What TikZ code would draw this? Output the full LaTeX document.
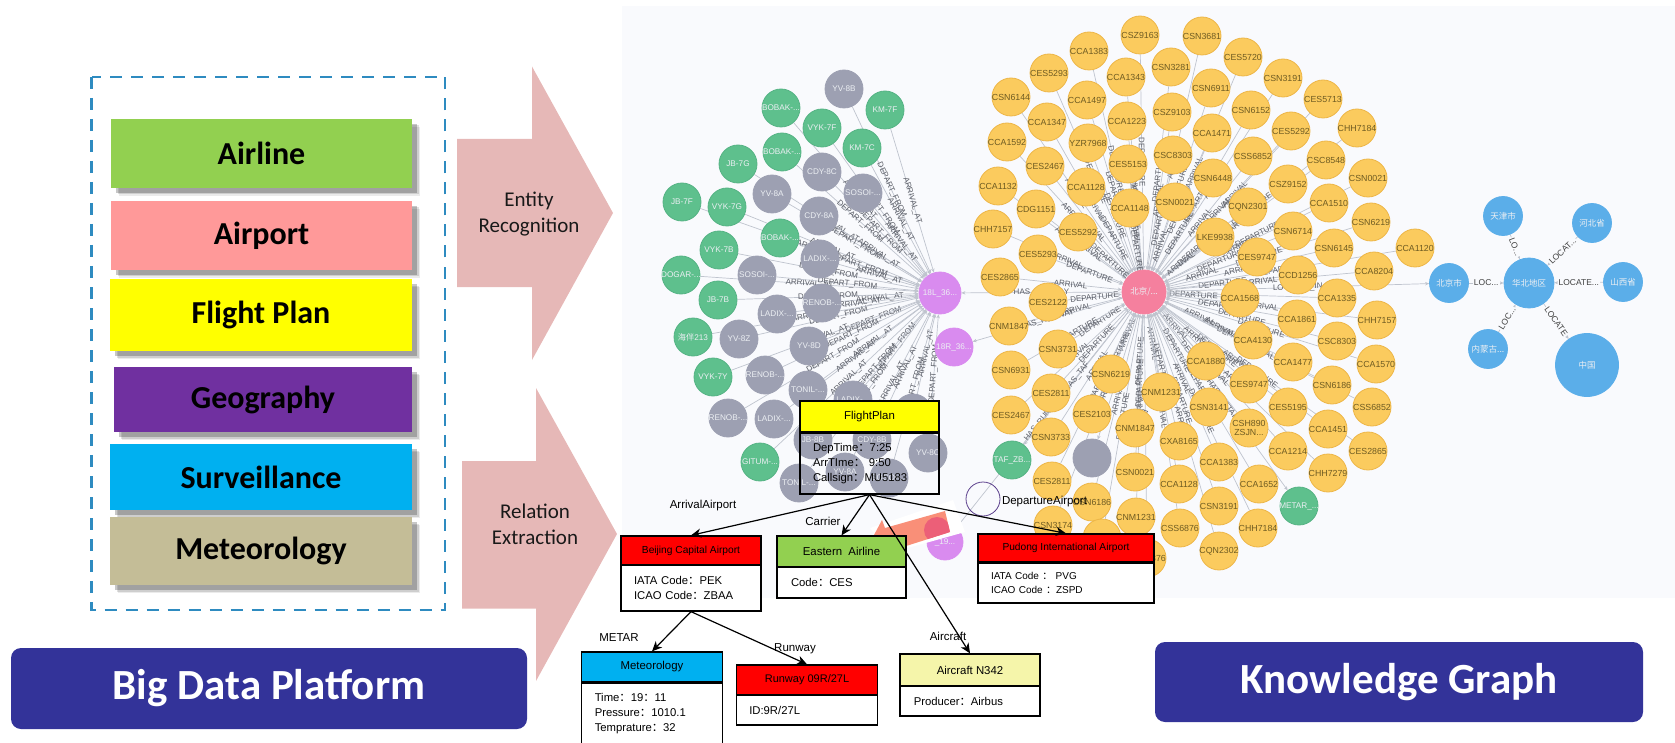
\documentclass[tikz,border=0pt]{standalone}
\usepackage{fontspec}
\usetikzlibrary{arrows.meta,shadows,calc}
\setmainfont{Liberation Sans}
\newfontfamily\calfont{Carlito}
\newfontfamily\cjk{Noto Sans CJK SC}
\definecolor{panelc}{HTML}{F9FAFD}
\definecolor{ynode}{HTML}{FBCB5E}
\definecolor{ynodeb}{HTML}{EDB648}
\definecolor{gnode}{HTML}{5EC08D}
\definecolor{gnodeb}{HTML}{55B384}
\definecolor{hnode}{HTML}{9DA0B2}
\definecolor{pnode}{HTML}{D98BEF}
\definecolor{rnode}{HTML}{F5809E}
\definecolor{bnode}{HTML}{5BAEE9}
\definecolor{edgec}{HTML}{BFC4CE}
\definecolor{elabc}{HTML}{5A5D66}
\definecolor{ytext}{HTML}{6E5B22}
\definecolor{wtext}{HTML}{ECEFF3}
\definecolor{navy}{HTML}{333399}
\definecolor{arrowc}{HTML}{E6B8B7}
\definecolor{dashc}{HTML}{2E8BC0}
\definecolor{salmon}{HTML}{F98F78}
\definecolor{redact}{HTML}{EC5F78}
\definecolor{pureyellow}{HTML}{FFFF00}
\definecolor{purered}{HTML}{FF0000}
\definecolor{catgreen}{HTML}{92D050}
\definecolor{catpink}{HTML}{FF9999}
\definecolor{catpurple}{HTML}{7030A0}
\definecolor{catblue}{HTML}{00B0F0}
\definecolor{cattan}{HTML}{C4BD97}
\definecolor{acyellow}{HTML}{F5F5AA}
\definecolor{ringc}{HTML}{5B3F8C}
\newcommand\nl[1]{\makebox[0pt][c]{#1}}
\newcommand\dd{.\kern0pt.\kern0pt.}
\newcommand\low[1]{\raisebox{-2.5pt}{#1}}
\pgfdeclarelayer{background}
\pgfsetlayers{background,main}
\tikzset{
  graphnode/.style={circle,inner sep=0pt,minimum size=38pt,line width=0.8pt},
  yn/.style={graphnode,fill=ynode,draw=ynodeb,text=ytext,font=\fontsize{8.8}{9}\selectfont},
  gn/.style={graphnode,fill=gnode,draw=gnodeb,text=wtext,font=\fontsize{8.2}{9}\selectfont},
  hn/.style={graphnode,fill=hnode,draw=hnode,text=wtext,font=\fontsize{8.2}{9}\selectfont},
  pn/.style={graphnode,fill=pnode,draw=pnode,text=wtext,font=\fontsize{8.2}{9}\selectfont},
  bn/.style={graphnode,fill=bnode,draw=bnode,text=wtext,font=\fontsize{8.5}{9}\selectfont},
  gedge/.style={draw=edgec,line width=0.7pt,-{Stealth[length=4pt,width=3.5pt]}},
  elabel/.style={midway,sloped,inner sep=0pt,text=elabc,font=\fontsize{8}{9}\selectfont},
  blabel/.style={midway,sloped,inner sep=1pt,fill=panelc,text=black!75,font=\fontsize{8.5}{9}\selectfont},
  hdr/.style={rectangle,draw=black,line width=1.3pt,inner sep=0pt,font=\fontsize{11.4}{13}\selectfont},
  tbody/.style={rectangle,draw=black,line width=1.3pt,inner sep=0pt,align=left,font=\fontsize{11.3}{15}\selectfont},
  rel/.style={draw=black,line width=1.2pt,-{Stealth[length=10pt,width=9pt,inset=3pt]}},
  rellab/.style={inner sep=0pt,font=\fontsize{11.5}{13}\selectfont},
  cat/.style={rectangle,inner sep=0pt,font=\calfont\bfseries\fontsize{32}{34}\selectfont,text=black,
    general shadow={fill=black,opacity=.08,shadow xshift=8pt,shadow yshift=-8pt},
    general shadow={fill=black,opacity=.12,shadow xshift=6.5pt,shadow yshift=-6.5pt},
    general shadow={fill=black,opacity=.22,shadow xshift=5pt,shadow yshift=-5pt}},
  bigarrow/.style={fill=arrowc,draw=none},
  bigtext/.style={align=center,inner sep=0pt,font=\calfont\fontsize{21}{26}\selectfont,text=black!90},
  banner/.style={rectangle,rounded corners=10pt,fill=navy,inner sep=0pt,text=white,font=\calfont\bfseries\fontsize{43}{46}\selectfont},
}
\begin{document}
\begin{tikzpicture}[x=1pt,y=-1pt]
\useasboundingbox (0,0) rectangle (1675,743);
\begin{pgfonlayer}{background}
  \fill[panelc] (622,6) rectangle (1675,598);
\end{pgfonlayer}

% category boxes
\draw[dashc,line width=2.5pt,dash pattern=on 12pt off 9pt] (91.5,77) rectangle (445,610);
\node[cat,fill=catgreen,minimum width=301pt,minimum height=69pt] (airline) at (261.5,153.5) {\raisebox{-1pt}{Airline}};
\node[cat,fill=catpink,minimum width=301pt,minimum height=69pt] (airport) at (261.5,235.5) {\low{Airport}};
\node[cat,fill=pureyellow,minimum width=302pt,minimum height=72pt] (plan) at (261,315) {\low{Flight Plan}};
\node[cat,fill=catpurple,minimum width=298pt,minimum height=65pt] (geo) at (263,399.5) {\low{Geography}};
\node[cat,fill=catblue,minimum width=302pt,minimum height=66pt] (surv) at (261,477) {\raisebox{-1pt}{Surveillance}};
\node[cat,fill=cattan,minimum width=302pt,minimum height=68pt] (met) at (261,551) {\low{Meteorology}};

% big arrows
\fill[bigarrow] (457,139) -- (532,139) -- (532,66.5) -- (613,213) -- (532,360) -- (532,287) -- (457,287) -- cycle;
\fill[bigarrow] (462,461) -- (536,461) -- (536,388) -- (617,534) -- (536,681) -- (536,608.5) -- (462,608.5) -- cycle;
\node[bigtext] (ertext) at (529,214) {Entity\\Recognition};
\node[bigtext] (retext) at (535,524) {Relation\\Extraction};

% banners
\node[banner,minimum width=516pt,minimum height=81pt] (bdp) at (269,688.5) {Big Data Plat{}form};
\node[banner,minimum width=488pt,minimum height=80pt] (kg) at (1399,682) {Knowledge Graph};

% hubs
\node[graphnode,minimum size=44pt,fill=rnode,draw=rnode,text=wtext,font=\fontsize{8.5}{9}\selectfont] (hub) at (1144,292) {\nl{\cjk 北京/\dd}};
\node[pn,minimum size=42pt] (l18) at (940,293) {\nl{18L\_36\dd}};
\node[pn] (r18) at (954,347) {\nl{18R\_36\dd}};
\node[pn,minimum size=36pt] (p19) at (945,542) {\nl{\_19\dd}};

% left cluster -> 18L
\foreach \px/\py/\kind/\txt [count=\nn] in {
885/110/gn/KM-7F, 844/89/hn/YV-8B, 862/148/gn/KM-7C, 822/128/gn/VYK-7F, 781/108/gn/BOBAK-\dd,
782/152/gn/BOBAK-\dd, 863/193/hn/SOSOI-\dd, 822/172/hn/CDY-8C, 738/164/gn/JB-7G, 772/194/hn/YV-8A,
819/216/hn/CDY-8A, 682/202/gn/JB-7F, 727/207/gn/VYK-7G, 780/238/gn/BOBAK-\dd, 820/259/hn/LADIX-\dd,
719/250/gn/VYK-7B, 681/275/gn/DOGAR-\dd, 757/275/hn/SOSOI-\dd, 822/303/hn/RENOB-\dd, 718/300/gn/JB-7B,
777/314/hn/LADIX-\dd, 739/339/hn/YV-8Z, 693/337/gn/{\cjk 海伴}213, 809/346/hn/YV-8D, 713/377/gn/VYK-7Y,
765/375/hn/RENOB-\dd, 808/390/hn/TONIL-\dd, 853/400/hn/LADIX-\dd, 913/413/hn/SOSOI-\dd, 728/418/hn/RENOB-\dd,
774/419/hn/LADIX-\dd, 813/440/hn/JB-8B, 872/440/hn/CDY-8B, 928/453/hn/YV-8C, 760/462/gn/GITUM-\dd,
799/483/hn/TONIL-\dd, 845/472/hn/YV-8A, 889/478/hn/SOSOI-\dd}
{
  \node[\kind] (c\nn) at (\px,\py) {\nl{\txt}};
  \begin{pgfonlayer}{background}
    \draw[gedge] (c\nn) -- node[elabel] {\ifodd\nn ARRIVAL\_AT\else DEPART\_FROM\fi} (l18);
  \end{pgfonlayer}
}

% yellow -> hub
\foreach \px/\py/\txt [count=\nn] in {
1140/35/CSZ9163, 1202/36/CSN3681, 1089/51/CCA1383, 1243/57/CES5720, 1049/73/CES5293, 1126/77/CCA1343,
1171/67/CSN3281, 1283/78/CSN3191, 1211/88/CSN6911, 1011/97/CSN6144, 1087/100/CCA1497, 1323/99/CES5713,
1251/110/CSN6152, 1172/112/CSZ9103, 1127/121/CCA1223, 1047/122/CCA1347, 1357/128/CHH7184, 1291/131/CES5292,
1212/133/CCA1471, 1007/142/CCA1592, 1088/143/YZR7968, 1128/164/CES5153, 1173/155/CSC8303, 1253/156/CSS6852,
1326/160/CSC8548, 1045/166/CES2467, 1213/178/CSN6448, 1288/184/CSZ9152, 1368/178/CSN0021, 998/186/CCA1132,
1086/187/CCA1128, 1036/209/CDG1151, 1130/208/CCA1148, 1175/202/CSN0021, 1248/207/CQN2301, 1329/203/CCA1510,
1371/222/CSN6219, 993/229/CHH7157, 1078/232/CES5292, 1215/237/LKE9938, 1293/231/CSN6714, 1334/248/CSN6145,
1038/254/CES5293, 1257/257/CES9747, 1298/275/CCD1256, 1374/271/CCA8204, 1415/248/CCA1120, 1000/277/CES2865,
1240/298/CCA1568, 1337/298/CCA1335, 1048/302/CES2122, 1009/326/CNM1847, 1297/319/CCA1861, 1377/320/CHH7157,
1337/341/CSC8303, 1253/340/CCA4130, 1058/349/CSN3731, 1293/362/CCA1477, 1376/364/CCA1570, 1206/361/CCA1880,
1011/370/CSN6931, 1111/374/CSN6219, 1332/385/CSN6186, 1249/384/CES9747, 1051/393/CES2811, 1161/392/CNM1231,
1209/407/CSN3141, 1372/407/CSS6852, 1288/407/CES5195, 1011/415/CES2467, 1092/414/CES2103, 1328/429/CCA1451,
1135/428/CNM1847, 1051/437/CSN3733, 1179/441/CXA8165, 1288/451/CCA1214, 1368/451/CES2865, 1219/462/CCA1383,
1135/472/CSN0021, 1328/473/CHH7279, 1052/481/CES2811, 1179/484/CCA1128, 1259/484/CCA1652, 1092/502/CSN6186,
1219/506/CSN3191, 1136/517/CNM1231, 1258/528/CHH7184, 1180/528/CSS6876, 1053/525/CSN3174, 1219/551/CQN2302,
1102/538/CES2811, 1147/558/CSS6876, 1249/428/{\shortstack{CSH890\\ZSJN\dd}}}
{
  \node[yn] (y\nn) at (\px,\py) {\nl{\txt}};
  \begin{pgfonlayer}{background}
    \draw[gedge] (y\nn) -- node[elabel] {\ifodd\nn DEPARTURE\else ARRIVAL\fi} (hub);
  \end{pgfonlayer}
}

% other hub neighbours
\node[gn] (taf) at (1012,460) {\nl{TAF\_ZB\dd}};
\node[hn] (blank) at (1092,458) {};
\node[gn] (metar) at (1299,506) {\nl{METAR\_\dd}};

% blue cluster
\node[bn,minimum size=50pt] (hb) at (1529,283) {\nl{\cjk 华北地区}};
\node[bn,minimum size=39pt] (bj) at (1449,283) {\nl{\cjk 北京市}};
\node[bn,minimum size=39pt] (tj) at (1503,216) {\nl{\cjk 天津市}};
\node[bn,minimum size=39pt] (hbs) at (1592,223) {\nl{\cjk 河北省}};
\node[bn,minimum size=39pt] (sx) at (1623,282) {\nl{\cjk 山西省}};
\node[bn,minimum size=39pt] (nm) at (1488,349) {\nl{\cjk 内蒙古\dd}};
\node[bn,minimum size=63pt] (cn) at (1587,365) {\nl{\cjk 中国}};

\begin{pgfonlayer}{background}
  \draw[gedge] (hub) -- node[elabel] {HAS\_RUNWAY} (l18);
  \draw[gedge] (hub) -- node[elabel] {HAS\_RUNWAY} (r18);
  \draw[gedge] (hub) -- node[elabel] {HAS\_RUNWAY} (p19);
  \draw[gedge] (hub) -- node[elabel] {HAS\_TAF} (taf);
  \draw[gedge] (hub) -- node[elabel] {HAS\_TAF} (blank);
  \draw[gedge] (hub) -- node[elabel] {HAS\_METAR} (metar);
  \draw[gedge] (hub) -- node[elabel] {LOCATED\_IN} (bj);
  \draw[gedge] (bj) -- node[blabel] {LOC\dd} (hb);
  \draw[gedge] (tj) -- node[blabel] {LO\dd} (hb);
  \draw[gedge] (hbs) -- node[blabel] {LOCAT\dd} (hb);
  \draw[gedge] (sx) -- node[blabel] {LOCATE\dd} (hb);
  \draw[gedge] (nm) -- node[blabel] {LOC\dd} (hb);
  \draw[gedge] (hb) -- node[blabel] {LOCATE} (cn);
\end{pgfonlayer}

% highlight patch
\fill[white] (870,528) -- (953,500) -- (965,532) -- (890,553) -- cycle;
\fill[salmon] (874,535) -- (882,520) -- (885,528) -- (945,511) -- (950,532) -- (903,547) -- cycle;
\begin{scope}
  \clip (874,535) -- (882,520) -- (885,528) -- (945,511) -- (950,532) -- (903,547) -- cycle;
  \fill[redact] (937,530) circle (13);
\end{scope}
\draw[ringc,line width=0.8pt] (983,499) circle (17);

% tables
\node[hdr,fill=pureyellow,minimum width=139pt,minimum height=31pt] (fpH) at (869.5,416.5) {FlightPlan};
\node[tbody,minimum width=139pt,minimum height=61pt,text width=113pt] (fpB) at (869.5,463.5) {DepTime{\cjk ：}7:25\\ArrTIme{\cjk ：} 9:50\\Callsign{\cjk ：}MU5183};
\node[hdr,fill=purered,minimum width=140pt,minimum height=29pt,font=\fontsize{10.2}{12}\selectfont] (bjH) at (691,550.5) {Beijing Capital Airport};
\node[tbody,fill=white,minimum width=140pt,minimum height=46pt,text width=114pt] (bjB) at (691,588) {IATA Code{\cjk ：}PEK\\ICAO Code{\cjk ：}ZBAA};
\node[hdr,fill=catgreen,minimum width=129pt,minimum height=31pt] (eaH) at (841.5,551.5) {Eastern\ \ Airline};
\node[tbody,fill=white,minimum width=129pt,minimum height=31pt,text width=101pt] (eaB) at (841.5,582.5) {Code{\cjk ：}CES};
\node[hdr,fill=purered,minimum width=176pt,minimum height=28pt,font=\fontsize{10.2}{12}\selectfont] (pdH) at (1066,548) {Pudong International Airport};
\node[tbody,fill=white,minimum width=176pt,minimum height=40pt,text width=150pt,font=\fontsize{10}{13.5}\selectfont] (pdB) at (1066,583) {IATA Code {\cjk ：}\ PVG\\ICAO Code {\cjk ：}ZSPD};
\node[hdr,fill=catblue,minimum width=140.5pt,minimum height=30pt] (mtH) at (652,667) {Meteorology};
\node[tbody,fill=white,minimum width=140.5pt,minimum height=62pt,text width=114.5pt] (mtB) at (652,714) {Time{\cjk ：}19{\cjk ：}11\\Pressure{\cjk ：}1010.1\\Temprature{\cjk ：}32};
\node[hdr,fill=purered,minimum width=140.5pt,minimum height=30pt,font=\fontsize{11}{12}\selectfont] (rwH) at (807,680) {Runway 09R/27L};
\node[tbody,fill=white,minimum width=140.5pt,minimum height=30pt,text width=115.5pt] (rwB) at (807,710) {ID:9R/27L};
\node[hdr,fill=acyellow,minimum width=140pt,minimum height=32pt] (acH) at (970,670) {Aircraft N342};
\node[tbody,fill=white,minimum width=140pt,minimum height=30pt,text width=112.5pt] (acB) at (970,701) {Producer{\cjk ：}Airbus};

% relation labels
\node[rellab] (lArr) at (703,506) {ArrivalAirport};
\node[rellab] (lCar) at (823,521) {Carrier};
\node[rellab] (lDep) at (1044.5,502) {DepartureAirport};
\node[rellab] (lMet) at (619,638) {METAR};
\node[rellab] (lRun) at (795,649) {Runway};
\node[rellab] (lAir) at (948,636) {Aircraft};

% relations
\draw[rel] (fpB.south) -- (bjH.north);
\draw[rel] (fpB.south) -- (eaH.north);
\draw[rel] (fpB.south) -- (pdH.north);
\draw[rel] (fpB.south) -- (acH.north);
\draw[rel] (bjB.south) -- (mtH.north);
\draw[rel] (bjB.south) -- (rwH.north);
\end{tikzpicture}
\end{document}
